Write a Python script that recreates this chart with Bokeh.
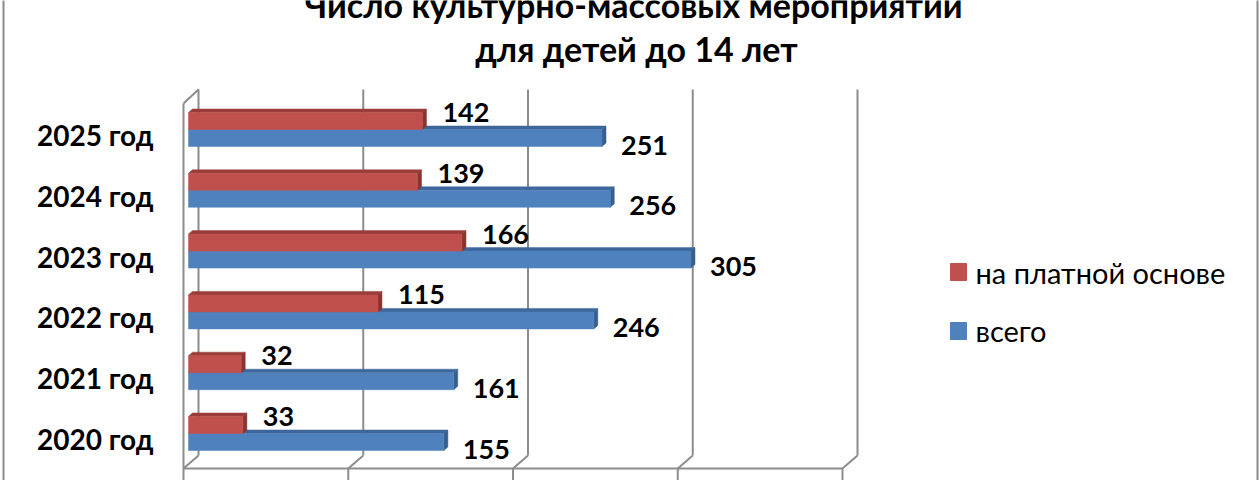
from bokeh.plotting import figure
from bokeh.models import Range1d
from bokeh.core.properties import value
from bokeh.embed import file_html
from bokeh.resources import INLINE

# ---- data ----
categories = ["2020 год", "2021 год", "2022 год", "2023 год", "2024 год", "2025 год"]
paid = [33, 32, 115, 166, 139, 142]          # на платной основе
total = [155, 161, 246, 305, 256, 251]       # всего
series_names = ["на платной основе", "всего"]
title_lines = ["Число культурно-массовых мероприятий", "для детей до 14 лет"]
grid_values = [0, 100, 200, 300, 400]

# ---- layout helpers (page pixel -> data) ----
W, H = 1260, 480
PX = 1.6475      # px per unit (value axis)
ROW = 60.8       # px per category
X0 = 188         # page px of value 0 (bar front)
Y0 = 433         # page px of first category center


def X(rx):
    return (rx - X0) / PX


def Y(ry):
    return (Y0 - ry) / ROW


def dx(px):
    return px / PX


def dy(px):
    return px / ROW


RED = "#C0504D"
RED_TOP = "#9A3C3A"
RED_SIDE = "#8A3331"
BLUE = "#4F81BD"
BLUE_TOP = "#3D679A"
BLUE_SIDE = "#375E8D"
GRID = "#8C8C8C"
FONT = value("Lato")

p = figure(width=W, height=H, x_range=Range1d(X(0), X(W)), y_range=Range1d(Y(H), Y(0)),
           min_border=0, toolbar_location=None, output_backend="svg",
           x_axis_location=None, y_axis_location=None, title=None)
p.grid.visible = False
p.outline_line_color = None
p.background_fill_color = "white"
p.border_fill_color = "white"

# ---- 3D walls / gridlines ----
front_x = [g + dx(183 - X0) for g in grid_values]
back_x = [g + dx(198 - X0) for g in grid_values]
y_back_top, y_back_bot = Y(89), Y(455)
y_front_top, y_front_bot, y_tick_bot = Y(103), Y(468), Y(482)

p.segment(x0=back_x, y0=[y_back_top] * 5, x1=back_x, y1=[y_back_bot] * 5, line_color=GRID, line_width=2)
p.segment(x0=back_x, y0=[y_back_bot] * 5, x1=front_x, y1=[y_front_bot] * 5, line_color=GRID, line_width=2)
p.segment(x0=front_x, y0=[y_front_bot] * 5, x1=front_x, y1=[y_tick_bot] * 5, line_color=GRID, line_width=2)
p.segment(x0=[front_x[0]], y0=[y_front_bot], x1=[front_x[-1]], y1=[y_front_bot], line_color=GRID, line_width=2)
p.segment(x0=[front_x[0], front_x[0]], y0=[y_front_top, y_front_top],
          x1=[front_x[0], back_x[0]], y1=[y_front_bot, y_back_top], line_color=GRID, line_width=2)

# chart border (left/right)
p.segment(x0=[X(3), X(1257)], y0=[Y(-5), Y(-5)], x1=[X(3), X(1257)], y1=[Y(485), Y(485)],
          line_color="#8A8A8A", line_width=2)

# ---- bars ----
h = dy(17)
ddx, ddy = dx(4), dy(3.5)
ys = list(range(len(categories)))


def faces(vals, centers):
    top_xs, top_ys, side_xs, side_ys = [], [], [], []
    for v, c in zip(vals, centers):
        t, b = c + h / 2, c - h / 2
        top_xs.append([0, v, v + ddx, ddx])
        top_ys.append([t, t, t + ddy, t + ddy])
        side_xs.append([v, v, v + ddx, v + ddx])
        side_ys.append([b, t, t + ddy, b + ddy])
    return top_xs, top_ys, side_xs, side_ys


blue_c = [i - h / 2 for i in ys]
red_c = [i + h / 2 for i in ys]

bt = faces(total, blue_c)
p.patches(xs=bt[0], ys=bt[1], fill_color=BLUE_TOP, line_color=BLUE_TOP, line_width=0.5)
p.patches(xs=bt[2], ys=bt[3], fill_color=BLUE_SIDE, line_color=BLUE_SIDE, line_width=0.5)
p.hbar(y=blue_c, height=h, left=0, right=total, fill_color=BLUE, line_color=BLUE, line_width=0.5)

rt = faces(paid, red_c)
p.patches(xs=rt[0], ys=rt[1], fill_color=RED_TOP, line_color=RED_TOP, line_width=0.5)
p.patches(xs=rt[2], ys=rt[3], fill_color=RED_SIDE, line_color=RED_SIDE, line_width=0.5)
p.hbar(y=red_c, height=h, left=0, right=paid, fill_color=RED, line_color=RED, line_width=0.5)

# ---- value labels ----
p.text(x=[v + dx(20) for v in paid], y=[c + h / 2 for c in red_c], text=[str(v) for v in paid],
       text_font=FONT, text_font_style="bold", text_font_size=value("27px"), text_color="black",
       text_align="left", text_baseline="middle")
p.text(x=[v + dx(19) for v in total], y=[c - h / 2 + dy(1.5) for c in blue_c], text=[str(v) for v in total],
       text_font=FONT, text_font_style="bold", text_font_size=value("27px"), text_color="black",
       text_align="left", text_baseline="middle")

# ---- category labels ----
p.text(x=[X(153)] * len(categories), y=[i - dy(5.5) for i in ys], text=categories,
       text_font=FONT, text_font_style="bold", text_font_size=value("28px"), text_color="black",
       text_align="right", text_baseline="middle")

# ---- title ----
p.text(x=[X(633), X(636)], y=[Y(4), Y(48)], text=title_lines,
       text_font=FONT, text_font_style="bold", text_font_size=value("34px"), text_color="black",
       text_align="center", text_baseline="middle")

# ---- legend ----
leg_colors = [RED, BLUE]
leg_top = [263, 322]
p.quad(left=[X(950)] * 2, right=[X(966)] * 2, top=[Y(t) for t in leg_top], bottom=[Y(t + 17) for t in leg_top],
       fill_color=leg_colors, line_color=leg_colors)
p.text(x=[X(975)] * 2, y=[Y(272), Y(330)], text=series_names,
       text_font=FONT, text_font_size=value("29px"), text_color="black",
       text_align="left", text_baseline="middle")

open("out.html", "w").write(file_html(p, INLINE))
